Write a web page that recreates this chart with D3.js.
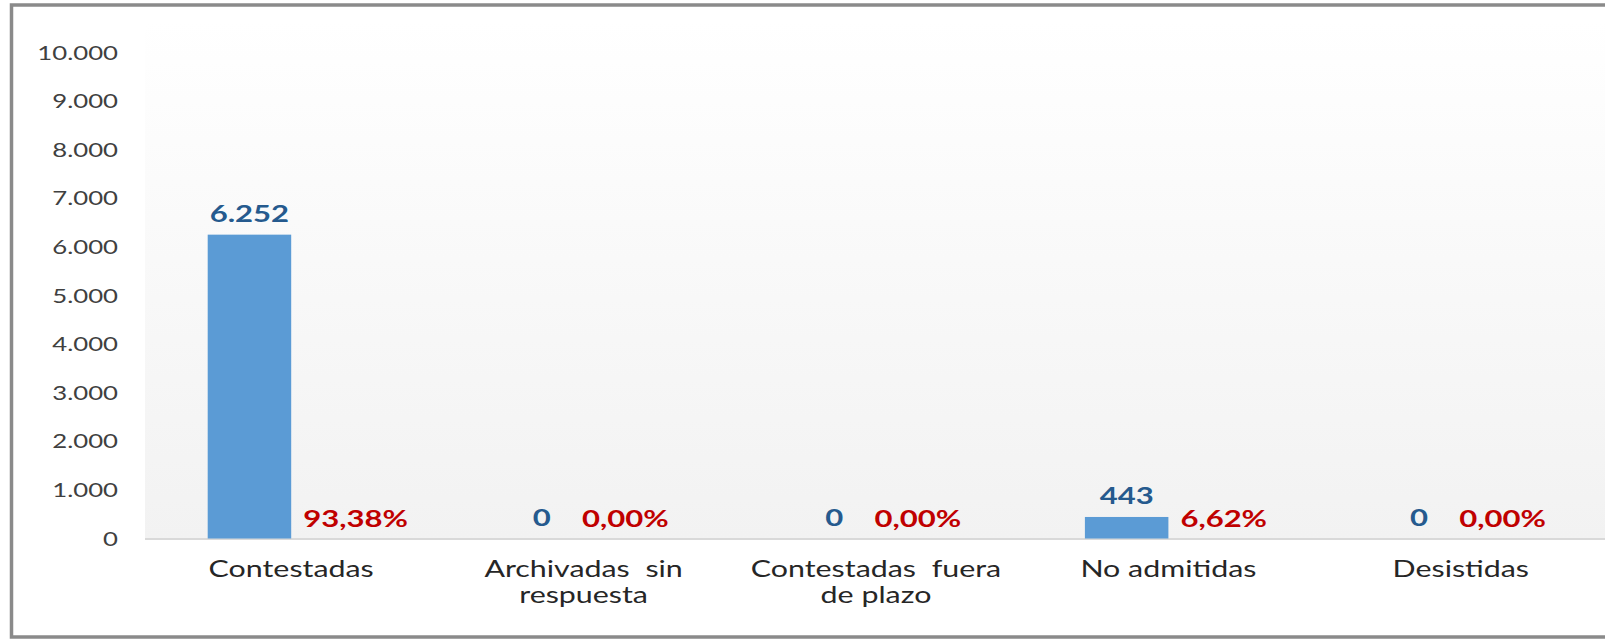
<!DOCTYPE html>
<html><head><meta charset="utf-8">
<script src="https://cdn.jsdelivr.net/npm/d3@7"></script>
<style>html,body{margin:0;padding:0;background:#fff;overflow:hidden}</style>
</head><body>
<svg id="c" width="1605" height="641"></svg>
<script>
const categories = ["Contestadas","Archivadas sin respuesta","Contestadas fuera de plazo","No admitidas","Desistidas"];
const counts = [6252, 0, 0, 443, 0];
const percents = [93.38, 0.00, 0.00, 6.62, 0.00];
const yTicks = [0,1000,2000,3000,4000,5000,6000,7000,8000,9000,10000];

const STRETCH = 1.32;
const svg = d3.select("#c");
const loc = d3.formatLocale({decimal:",", thousands:".", grouping:[3], currency:["","€"]});
const fmtInt = loc.format(",d");
const fmtPct = v => loc.format(".2f")(v) + "%";

const plotL = 145, plotR = 1607, plotTop = 20, base = 538.5;
const x = d3.scaleBand().domain(categories).range([plotL, plotR]).padding(0);
const y = d3.scaleLinear().domain([0, 10000]).range([base, 52.5]);
const inner = d3.scaleBand().domain(["count","pct"]).range([0, 167]);
const groupOff = x.bandwidth()/2 - 83.5;

// gradient plot background
const defs = svg.append("defs");
const g = defs.append("linearGradient").attr("id","bg").attr("x1",0).attr("y1",0).attr("x2",0).attr("y2",1);
g.append("stop").attr("offset","0%").attr("stop-color","#ffffff");
g.append("stop").attr("offset","100%").attr("stop-color","#f2f2f2");
svg.append("rect").attr("x",plotL).attr("y",plotTop).attr("width",plotR-plotL).attr("height",base-plotTop).attr("fill","url(#bg)");

// frame
svg.append("rect").attr("x",11.5).attr("y",5).attr("width",1700).attr("height",632)
  .attr("fill","none").attr("stroke","#8a8a8a").attr("stroke-width",3.5);

// y axis
const yAxis = svg.append("g").attr("transform",`translate(118,0)`)
  .call(d3.axisLeft(y).tickValues(yTicks).tickFormat(fmtInt).tickSize(0).tickPadding(0));
yAxis.select(".domain").remove();
yAxis.selectAll("text").attr("font-family","Lato").attr("font-size",19.5).attr("fill","#404040").attr("dy","0.34em");

// baseline
svg.append("line").attr("x1",plotL).attr("x2",plotR).attr("y1",base+0.5).attr("y2",base+0.5)
  .attr("stroke","#d9d9d9").attr("stroke-width",2);

const data = categories.map((c,i)=>({c, n:counts[i], p:percents[i]}));

// bars
svg.append("g").selectAll("rect").data(data).join("rect")
  .attr("x", d => x(d.c) + groupOff + inner("count"))
  .attr("width", inner.bandwidth())
  .attr("y", d => y(d.n))
  .attr("height", d => base - y(d.n))
  .attr("fill","#5b9bd5");

// count labels
svg.append("g").selectAll("text").data(data).join("text")
  .attr("x", d => x(d.c) + groupOff + inner("count") + inner.bandwidth()/2)
  .attr("y", d => y(d.n) - 13)
  .attr("text-anchor","middle")
  .attr("font-family","Lato").attr("font-weight","bold").attr("font-size",23.5)
  .attr("fill","#255a8e")
  .text(d => fmtInt(d.n));

// percent labels
svg.append("g").selectAll("text").data(data).join("text")
  .attr("x", d => d.n > 0 ? x(d.c) + groupOff + inner("pct") + 12 : x(d.c) + groupOff + inner("pct") + inner.bandwidth()/2)
  .attr("y", base - 12)
  .attr("text-anchor", d => d.n > 0 ? "start" : "middle")
  .attr("font-family","Lato").attr("font-weight","bold").attr("font-size",23.5)
  .attr("fill","#c00000")
  .text(d => fmtPct(d.p));

// category labels with wrapping
const catG = svg.append("g");
const CAT_FS = 23;
data.forEach(d => {
  const cx = x(d.c) + x.bandwidth()/2;
  const words = d.c.split(" ");
  const probe = catG.append("text").attr("font-family","Lato").attr("font-size",CAT_FS);
  let lines = [], cur = [];
  words.forEach(w => {
    probe.text(cur.concat(w).join(" "));
    if (probe.node().getComputedTextLength()*STRETCH > x.bandwidth()*0.92 && cur.length) { lines.push(cur.join(" ")); cur=[w]; }
    else cur.push(w);
  });
  lines.push(cur.join(" "));
  probe.remove();
  lines.forEach((ln,k) => {
    catG.append("text").attr("x",cx).attr("y",577 + k*26)
      .attr("font-family","Lato").attr("font-size",CAT_FS).attr("fill","#262626").attr("text-anchor","middle")
      .attr("word-spacing", k < lines.length-1 ? 6 : 0)
      .text(ln);
  });
});

// horizontal stretch of all text (reference text is wide)
svg.selectAll("text").each(function(){
  const len = this.getComputedTextLength();
  d3.select(this).attr("textLength", len*STRETCH).attr("lengthAdjust","spacingAndGlyphs");
});
</script>
</body></html>
